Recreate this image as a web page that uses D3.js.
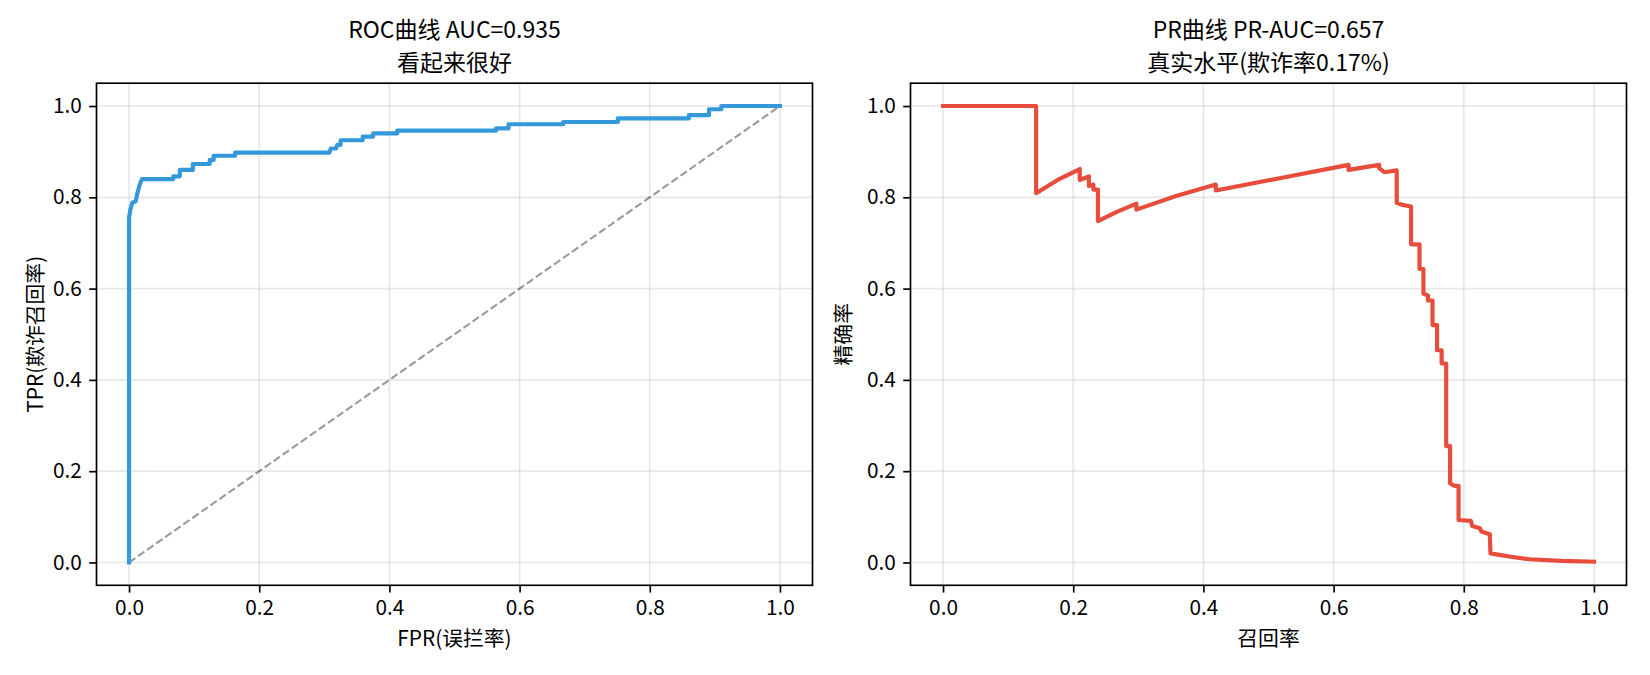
<!DOCTYPE html>
<html>
<head>
<meta charset="utf-8">
<script src="https://cdn.jsdelivr.net/npm/d3@7"></script>
<style>
  body { margin: 0; background: #fff; }
  svg { display: block; font-family: "Noto Sans CJK SC", "Noto Sans", sans-serif; }
</style>
</head>
<body>
<div id="chart"></div>
<script>
// ROC curve corners
const rocFpr = [0, 0, 0.002, 0.005, 0.010, 0.013, 0.0165, 0.020, 0.068, 0.068, 0.078, 0.078, 0.098, 0.098,
  0.124, 0.124, 0.130, 0.130, 0.163, 0.163, 0.308, 0.310, 0.318, 0.320, 0.325, 0.325, 0.359, 0.359,
  0.375, 0.375, 0.412, 0.412, 0.564, 0.564, 0.583, 0.583, 0.667, 0.667, 0.751, 0.751, 0.860, 0.860,
  0.891, 0.891, 0.910, 0.910, 1.0];
const rocTpr = [0, 0.755, 0.773, 0.788, 0.791, 0.810, 0.828, 0.840, 0.840, 0.846, 0.846, 0.860, 0.860, 0.873,
  0.873, 0.882, 0.882, 0.891, 0.891, 0.898, 0.898, 0.907, 0.907, 0.915, 0.915, 0.925, 0.925, 0.933,
  0.933, 0.940, 0.940, 0.946, 0.946, 0.951, 0.951, 0.960, 0.960, 0.965, 0.965, 0.973, 0.973, 0.980,
  0.980, 0.993, 0.993, 1.0, 1.0];

// PR curve
const prRecall = [0, 0.143, 0.143, 0.176, 0.210, 0.210, 0.224, 0.224, 0.231, 0.231, 0.238, 0.238, 0.267,
  0.297, 0.297, 0.358, 0.419, 0.419, 0.529, 0.623, 0.623, 0.670, 0.670, 0.678, 0.697, 0.697, 0.704,
  0.719, 0.719, 0.732, 0.732, 0.738, 0.738, 0.745, 0.745, 0.752, 0.752, 0.759, 0.759, 0.766, 0.766,
  0.773, 0.773, 0.779, 0.779, 0.786, 0.792, 0.792, 0.811, 0.813, 0.825, 0.827, 0.840, 0.841, 0.857,
  0.875, 0.901, 0.950, 1.0];
const prPrecision = [1.0, 1.0, 0.809, 0.838, 0.862, 0.838, 0.846, 0.825, 0.828, 0.817, 0.817, 0.748, 0.768,
  0.786, 0.773, 0.803, 0.828, 0.815, 0.845, 0.871, 0.860, 0.871, 0.864, 0.855, 0.859, 0.788, 0.784,
  0.780, 0.697, 0.697, 0.643, 0.643, 0.589, 0.585, 0.574, 0.574, 0.520, 0.520, 0.465, 0.465, 0.436,
  0.436, 0.255, 0.255, 0.173, 0.168, 0.168, 0.093, 0.091, 0.080, 0.075, 0.068, 0.062, 0.020, 0.016,
  0.012, 0.007, 0.0035, 0.0017];

const ticks = [0, 0.2, 0.4, 0.6, 0.8, 1.0];

const width = 1650;
const height = 675;
const plotTop = 83.2, plotBottom = 585.3;
const px = 150 / 72; // points -> pixels at 150 dpi

const svg = d3.select("#chart").append("svg")
    .attr("width", width)
    .attr("height", height)
    .attr("viewBox", [0, 0, width, height]);

function panel(opts) {
  const x = d3.scaleLinear().domain([-0.05, 1.05]).range([opts.left, opts.right]);
  const y = d3.scaleLinear().domain([-0.05, 1.05]).range([plotBottom, plotTop]);
  const g = svg.append("g");

  // grid
  g.append("g").selectAll("line").data(ticks).join("line")
      .attr("x1", d => x(d)).attr("x2", d => x(d))
      .attr("y1", plotTop).attr("y2", plotBottom)
      .attr("stroke", "#b0b0b0").attr("stroke-opacity", 0.3).attr("stroke-width", 0.8 * px);
  g.append("g").selectAll("line").data(ticks).join("line")
      .attr("y1", d => y(d)).attr("y2", d => y(d))
      .attr("x1", opts.left).attr("x2", opts.right)
      .attr("stroke", "#b0b0b0").attr("stroke-opacity", 0.3).attr("stroke-width", 0.8 * px);

  if (opts.diag) {
    g.append("line")
        .attr("x1", x(0)).attr("y1", y(0)).attr("x2", x(1)).attr("y2", y(1))
        .attr("stroke", "#000").attr("stroke-opacity", 0.4)
        .attr("stroke-width", 1 * px)
        .attr("stroke-dasharray", `${3.7 * px},${1.6 * px}`);
  }

  const pts = d3.zip(opts.xs, opts.ys);
  g.append("path")
      .datum(pts)
      .attr("fill", "none")
      .attr("stroke", opts.color)
      .attr("stroke-width", 2 * px)
      .attr("stroke-linejoin", "round")
      .attr("stroke-linecap", "square")
      .attr("d", d3.line().x(d => x(d[0])).y(d => y(d[1])));

  // axes
  const fmt = d3.format(".1f");
  const xa = g.append("g")
      .attr("transform", `translate(0,${plotBottom})`)
      .call(d3.axisBottom(x).tickValues(ticks).tickFormat(fmt).tickSize(3.5 * px).tickPadding(3.5 * px));
  const ya = g.append("g")
      .attr("transform", `translate(${opts.left},0)`)
      .call(d3.axisLeft(y).tickValues(ticks).tickFormat(fmt).tickSize(3.5 * px).tickPadding(3.5 * px));
  [xa, ya].forEach(a => {
    a.select(".domain").remove();
    a.selectAll(".tick line").attr("stroke", "#000").attr("stroke-width", 0.8 * px);
    a.selectAll("text").attr("fill", "#000").style("font-size", "20.8px")
        .style("font-family", "'Noto Sans CJK SC', sans-serif");
  });

  // frame
  g.append("rect")
      .attr("x", opts.left).attr("y", plotTop)
      .attr("width", opts.right - opts.left).attr("height", plotBottom - plotTop)
      .attr("fill", "none").attr("stroke", "#000").attr("stroke-width", 0.8 * px);

  // two-line title
  const cx = (opts.left + opts.right) / 2;
  g.selectAll(".title").data(opts.title).join("text")
      .attr("class", "title")
      .attr("x", cx)
      .attr("y", (d, i) => 37.5 + i * 33.5)
      .attr("text-anchor", "middle")
      .style("font-size", "23px")
      .attr("fill", "#000")
      .text(d => d);

  g.append("text")
      .attr("x", cx).attr("y", 646)
      .attr("text-anchor", "middle")
      .style("font-size", "20.8px")
      .text(opts.xlabel);

  g.append("text")
      .attr("transform", `translate(${opts.ylabelX},${(plotTop + plotBottom) / 2}) rotate(-90)`)
      .attr("text-anchor", "middle")
      .attr("dominant-baseline", "central")
      .style("font-size", "20.8px")
      .text(opts.ylabel);
}

panel({
  left: 96.5, right: 812.5, xs: rocFpr, ys: rocTpr, color: "#3498db", diag: true,
  title: ["ROC曲线 AUC=0.935", "看起来很好"],
  xlabel: "FPR(误拦率)", ylabel: "TPR(欺诈召回率)", ylabelX: 34
});

panel({
  left: 910.5, right: 1626.5, xs: prRecall, ys: prPrecision, color: "#e74c3c", diag: false,
  title: ["PR曲线 PR-AUC=0.657", "真实水平(欺诈率0.17%)"],
  xlabel: "召回率", ylabel: "精确率", ylabelX: 842
});
</script>
</body>
</html>
